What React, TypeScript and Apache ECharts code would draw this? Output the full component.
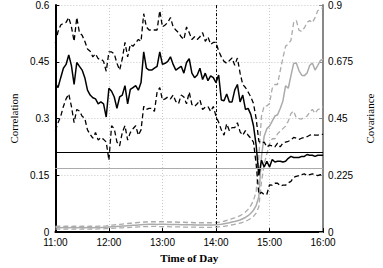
import React, { useEffect, useRef } from "react";
import * as echarts from "echarts";

// minutes after 11:00, one sample every 3 minutes
const minutes: number[] = Array.from({ length: 101 }, (_, i) => i * 3);
const hourLabels = ["11:00", "12:00", "13:00", "14:00", "15:00", "16:00"];

const corrMean = [
  0.392, 0.382, 0.408, 0.433, 0.443, 0.468, 0.44, 0.39, 0.448, 0.438,
  0.428, 0.408, 0.375, 0.362, 0.355, 0.352, 0.339, 0.344, 0.339, 0.304,
  0.38, 0.372, 0.357, 0.327, 0.357, 0.362, 0.387, 0.339, 0.377, 0.382,
  0.387, 0.375, 0.395, 0.476, 0.433, 0.428, 0.428, 0.433, 0.438, 0.476,
  0.443, 0.446, 0.451, 0.463, 0.443, 0.428, 0.433, 0.438, 0.42, 0.448,
  0.458, 0.42, 0.408, 0.415, 0.433, 0.403, 0.42, 0.4, 0.413, 0.408,
  0.395, 0.415, 0.349, 0.347, 0.365, 0.344, 0.344, 0.375, 0.39, 0.344,
  0.362, 0.324, 0.327, 0.311, 0.281, 0.23, 0.15, 0.19, 0.172, 0.187,
  0.172, 0.192, 0.185, 0.187, 0.187, 0.185, 0.187, 0.195, 0.2, 0.197,
  0.197, 0.197, 0.2, 0.2, 0.205, 0.203, 0.203, 0.2, 0.203, 0.203,
  0.203,
];
const corrUpper = [
  0.5, 0.53, 0.547, 0.552, 0.554, 0.567, 0.542, 0.504, 0.567, 0.527,
  0.52, 0.504, 0.484, 0.478, 0.463, 0.471, 0.458, 0.458, 0.451, 0.425,
  0.476, 0.476, 0.471, 0.446, 0.428, 0.458, 0.501, 0.463, 0.496, 0.491,
  0.5, 0.509, 0.504, 0.577, 0.542, 0.534, 0.534, 0.534, 0.534, 0.585,
  0.542, 0.547, 0.554, 0.567, 0.542, 0.534, 0.527, 0.516, 0.509, 0.542,
  0.527, 0.509, 0.516, 0.509, 0.516, 0.527, 0.504, 0.516, 0.496, 0.501,
  0.501, 0.478, 0.463, 0.451, 0.446, 0.453, 0.46, 0.441, 0.46, 0.42,
  0.39, 0.382, 0.37, 0.357, 0.34, 0.3, 0.24, 0.235, 0.238, 0.225,
  0.23, 0.228, 0.225, 0.235, 0.225, 0.235, 0.238, 0.24, 0.243, 0.25,
  0.248, 0.245, 0.248, 0.25, 0.252, 0.256, 0.258, 0.256, 0.256, 0.258,
  0.258,
];
const corrLower = [
  0.268, 0.289, 0.306, 0.332, 0.352, 0.365, 0.332, 0.289, 0.324, 0.32,
  0.306, 0.3, 0.27, 0.258, 0.248, 0.263, 0.243, 0.25, 0.245, 0.238,
  0.19, 0.281, 0.273, 0.238, 0.228, 0.263, 0.281, 0.243, 0.263, 0.273,
  0.281, 0.256, 0.27, 0.332, 0.324, 0.327, 0.327, 0.319, 0.37, 0.382,
  0.349, 0.352, 0.357, 0.352, 0.362, 0.345, 0.339, 0.362, 0.357, 0.339,
  0.37, 0.337, 0.332, 0.339, 0.349, 0.324, 0.33, 0.332, 0.319, 0.332,
  0.306, 0.29, 0.27, 0.256, 0.286, 0.268, 0.276, 0.276, 0.289, 0.265,
  0.256, 0.268, 0.256, 0.248, 0.238, 0.18, 0.1, 0.105, 0.099, 0.1,
  0.125, 0.124, 0.129, 0.129, 0.122, 0.124, 0.124, 0.13, 0.134, 0.145,
  0.147, 0.149, 0.152, 0.154, 0.149, 0.152, 0.154, 0.152, 0.149, 0.152,
  0.149,
];
const covMean = [
  0.018, 0.018, 0.017, 0.018, 0.018, 0.017, 0.018, 0.018, 0.017, 0.018,
  0.018, 0.017, 0.018, 0.018, 0.017, 0.018, 0.018, 0.018, 0.018, 0.019,
  0.02, 0.021, 0.022, 0.022, 0.023, 0.024, 0.024, 0.025, 0.026, 0.027,
  0.027, 0.028, 0.029, 0.03, 0.03, 0.031, 0.031, 0.031, 0.03, 0.031,
  0.031, 0.031, 0.03, 0.03, 0.03, 0.03, 0.03, 0.029, 0.029, 0.029,
  0.029, 0.029, 0.028, 0.028, 0.028, 0.028, 0.028, 0.028, 0.028, 0.028,
  0.029, 0.03, 0.031, 0.033, 0.035, 0.037, 0.04, 0.042, 0.045, 0.048,
  0.053, 0.058, 0.065, 0.075, 0.087, 0.105, 0.14, 0.3, 0.38, 0.41,
  0.42, 0.44, 0.46, 0.465, 0.49, 0.52, 0.58, 0.57, 0.62, 0.668,
  0.67, 0.64, 0.622, 0.62, 0.63, 0.66, 0.67, 0.642, 0.66, 0.68,
  0.685,
];
const covUpper = [
  0.023, 0.024, 0.023, 0.023, 0.024, 0.023, 0.023, 0.024, 0.023, 0.023,
  0.024, 0.023, 0.023, 0.024, 0.023, 0.023, 0.024, 0.024, 0.024, 0.025,
  0.027, 0.028, 0.029, 0.03, 0.031, 0.032, 0.033, 0.034, 0.035, 0.036,
  0.037, 0.038, 0.039, 0.04, 0.04, 0.041, 0.041, 0.041, 0.04, 0.041,
  0.041, 0.041, 0.04, 0.04, 0.04, 0.04, 0.039, 0.039, 0.039, 0.038,
  0.038, 0.038, 0.037, 0.037, 0.037, 0.037, 0.037, 0.037, 0.037, 0.037,
  0.038, 0.039, 0.041, 0.043, 0.046, 0.049, 0.053, 0.056, 0.06, 0.065,
  0.072, 0.08, 0.09, 0.105, 0.125, 0.16, 0.3, 0.46, 0.5, 0.5,
  0.51, 0.57, 0.585, 0.585, 0.64, 0.69, 0.737, 0.745, 0.76, 0.83,
  0.839, 0.8, 0.795, 0.809, 0.83, 0.839, 0.83, 0.85, 0.877, 0.885,
  0.89,
];
const covLower = [
  0.012, 0.013, 0.012, 0.012, 0.013, 0.012, 0.012, 0.013, 0.012, 0.012,
  0.013, 0.012, 0.012, 0.013, 0.012, 0.012, 0.013, 0.013, 0.013, 0.014,
  0.014, 0.015, 0.016, 0.016, 0.017, 0.017, 0.018, 0.018, 0.019, 0.02,
  0.02, 0.021, 0.021, 0.022, 0.022, 0.022, 0.023, 0.023, 0.022, 0.022,
  0.022, 0.022, 0.022, 0.021, 0.021, 0.021, 0.021, 0.02, 0.02, 0.02,
  0.02, 0.02, 0.02, 0.019, 0.019, 0.019, 0.019, 0.019, 0.019, 0.019,
  0.02, 0.021, 0.022, 0.023, 0.025, 0.027, 0.029, 0.031, 0.033, 0.036,
  0.039, 0.043, 0.048, 0.054, 0.062, 0.075, 0.1, 0.2, 0.27, 0.31,
  0.35, 0.37, 0.37, 0.39, 0.4, 0.41, 0.42, 0.44, 0.47, 0.48,
  0.452, 0.45, 0.448, 0.455, 0.46, 0.475, 0.486, 0.471, 0.485, 0.49,
  0.498,
];
const corrRefLevel = 0.21;
const covRefLevel = 0.175;
const eventMinute = 180; // 14:00

const pair = (arr: number[]) => minutes.map((m, i) => [m, arr[i]]);

const GRAY = "#ababab";
const LABEL_FONT = "Liberation Sans";
const TITLE_FONT = "Liberation Serif";

export default function App() {
  const ref = useRef<HTMLDivElement>(null);
  useEffect(() => {
    if (!ref.current) return;
    const chart = echarts.init(ref.current, undefined, { renderer: "svg" });
    const dashed: any = [5, 3];
    chart.setOption({
      animation: false,
      backgroundColor: "#fff",
      grid: { left: 39, right: 44, top: 4, bottom: 27, containLabel: false },
      xAxis: {
        type: "value",
        min: 0,
        max: 300,
        interval: 60,
        name: "Time of Day",
        nameLocation: "middle",
        nameGap: 19,
        nameTextStyle: { fontFamily: TITLE_FONT, fontWeight: "bold", fontSize: 11, color: "#000" },
        axisLine: { lineStyle: { color: "#000", width: 2 } },
        axisTick: { inside: true, length: 4, lineStyle: { color: "#000", width: 1 } },
        axisLabel: {
          formatter: (v: number) => hourLabels[Math.round(v / 60)],
          fontFamily: LABEL_FONT,
          fontSize: 10,
          color: "#000",
          margin: 5,
        },
        splitLine: { show: true, lineStyle: { color: "#c8c8c8", type: [1, 2], width: 1 } },
      },
      yAxis: [
        {
          type: "value",
          min: 0,
          max: 0.6,
          interval: 0.15,
          position: "left",
          name: "Correlation",
          nameLocation: "middle",
          nameGap: 31,
          nameRotate: 90,
          nameTextStyle: { fontFamily: TITLE_FONT, fontSize: 11, color: "#000" },
          axisLine: { show: true, lineStyle: { color: "#000", width: 2 } },
          axisTick: { show: true, inside: true, length: 4, lineStyle: { color: "#000" } },
          axisLabel: { fontFamily: LABEL_FONT, fontSize: 10, color: "#000", margin: 6 },
          splitLine: { show: true, lineStyle: { color: "#c8c8c8", type: [1, 2], width: 1 } },
        },
        {
          type: "value",
          min: 0,
          max: 0.9,
          interval: 0.225,
          position: "right",
          name: "Covariance",
          nameLocation: "middle",
          nameGap: 38,
          nameRotate: 90,
          nameTextStyle: { fontFamily: TITLE_FONT, fontSize: 11, color: "#000" },
          axisLine: { show: true, lineStyle: { color: "#888", width: 2 } },
          axisTick: { show: true, inside: true, length: 4, lineStyle: { color: "#888" } },
          axisLabel: { fontFamily: LABEL_FONT, fontSize: 10, color: "#000", margin: 5 },
          splitLine: { show: false },
        },
      ],
      series: [
        {
          type: "line",
          yAxisIndex: 1,
          data: pair(covUpper),
          showSymbol: false,
          lineStyle: { color: GRAY, width: 1.3, type: dashed },
        },
        {
          type: "line",
          yAxisIndex: 1,
          data: pair(covLower),
          showSymbol: false,
          lineStyle: { color: GRAY, width: 1.3, type: dashed },
        },
        {
          type: "line",
          yAxisIndex: 1,
          data: pair(covMean),
          showSymbol: false,
          lineStyle: { color: GRAY, width: 1.5 },
        },
        {
          type: "line",
          yAxisIndex: 0,
          data: pair(corrUpper),
          showSymbol: false,
          lineStyle: { color: "#000", width: 1.3, type: dashed },
        },
        {
          type: "line",
          yAxisIndex: 0,
          data: pair(corrLower),
          showSymbol: false,
          lineStyle: { color: "#000", width: 1.3, type: dashed },
        },
        {
          type: "line",
          yAxisIndex: 0,
          data: pair(corrMean),
          showSymbol: false,
          lineStyle: { color: "#000", width: 1.5 },
          markLine: {
            silent: true,
            symbol: "none",
            label: { show: false },
            data: [
              { yAxis: corrRefLevel, lineStyle: { color: "#000", width: 1, type: "solid" } },
              { yAxis: covRefLevel, lineStyle: { color: GRAY, width: 1, type: "solid" } },
              { xAxis: eventMinute, lineStyle: { color: "#000", width: 1, type: [3, 2, 1, 2] } },
            ],
          },
        },
      ],
    });
    return () => chart.dispose();
  }, []);
  return (
    <div
      ref={ref}
      style={{ position: "fixed", left: 0, top: 0, width: 383, height: 268, background: "#fff" }}
    />
  );
}
